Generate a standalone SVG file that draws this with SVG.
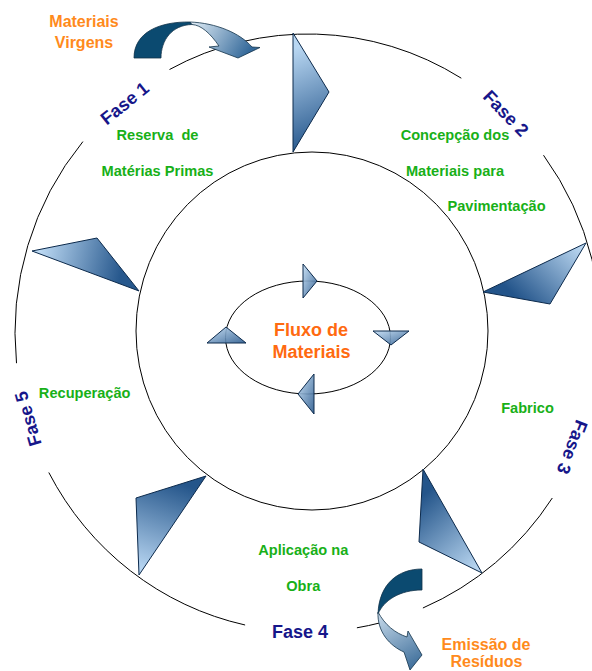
<svg xmlns="http://www.w3.org/2000/svg" width="592" height="671" viewBox="0 0 592 671">
<style>
.ln{fill:none;stroke:#000;stroke-width:1}
.tri{stroke:#0c2a4c;stroke-width:1;stroke-linejoin:round}
.st{fill:url(#gs);stroke:#0c2a4c;stroke-width:1;fill-opacity:0.9}
.or{font-family:"Liberation Sans",Arial,sans-serif;font-weight:bold;font-size:16px;fill:#ff8a1c;text-anchor:middle}
.orc{font-family:"Liberation Sans",Arial,sans-serif;font-weight:bold;font-size:18px;fill:#ff6a10;text-anchor:middle}
.gr{font-family:"Liberation Sans",Arial,sans-serif;font-weight:bold;font-size:14.6px;fill:#18b018;text-anchor:middle}
.fs{font-family:"Liberation Sans",Arial,sans-serif;font-weight:bold;font-size:18px;fill:#16168a;text-anchor:middle}
.arw{stroke:#12324a;stroke-width:0.8;stroke-linejoin:round}
</style>
<defs>
<linearGradient id="gs" x1="0" y1="0" x2="1" y2="1"><stop offset="0" stop-color="#c4def5"/><stop offset="1" stop-color="#2a5a8e"/></linearGradient>
<linearGradient id="g1" gradientUnits="userSpaceOnUse" x1="290" y1="50" x2="328" y2="140"><stop offset="0" stop-color="#b9d7f2"/><stop offset="1" stop-color="#27588d"/></linearGradient>
<linearGradient id="g2" gradientUnits="userSpaceOnUse" x1="584" y1="246" x2="525" y2="306"><stop offset="0" stop-color="#c0dcf5"/><stop offset="1" stop-color="#23548a"/></linearGradient>
<linearGradient id="g3" gradientUnits="userSpaceOnUse" x1="418" y1="500" x2="478" y2="570"><stop offset="0" stop-color="#24558a"/><stop offset="1" stop-color="#bcd9f3"/></linearGradient>
<linearGradient id="g4" gradientUnits="userSpaceOnUse" x1="172" y1="480" x2="140" y2="570"><stop offset="0" stop-color="#24558a"/><stop offset="1" stop-color="#b9d7f3"/></linearGradient>
<linearGradient id="g5" gradientUnits="userSpaceOnUse" x1="40" y1="250" x2="122" y2="268"><stop offset="0" stop-color="#bcd9f3"/><stop offset="1" stop-color="#27588d"/></linearGradient>
<linearGradient id="ga1" gradientUnits="userSpaceOnUse" x1="190" y1="24" x2="245" y2="58"><stop offset="0" stop-color="#e2eef7"/><stop offset="1" stop-color="#34699a"/></linearGradient>
<linearGradient id="ga2" gradientUnits="userSpaceOnUse" x1="380" y1="612" x2="415" y2="670"><stop offset="0" stop-color="#c8dbeb"/><stop offset="1" stop-color="#3a6b98"/></linearGradient>
</defs>

<g id="connectors">
<ellipse class="ln" cx="312" cy="331" rx="176" ry="179"/>
<path class="ln" d="M169.5,69.5 A293,299 0 0 1 461.3,78.2"/>
<path class="ln" d="M543.5,155.2 A293,299 0 0 1 598.2,374.6"/>
<path class="ln" d="M552.3,498 A293,299 0 0 1 422.9,608"/>
<path class="ln" d="M379.9,622.9 A293,299 0 0 1 356.9,627.8"/>
<path class="ln" d="M245.1,625 A293,299 0 0 1 48.8,472.5"/>
<path class="ln" d="M16.5,363.2 A293,299 0 0 1 82.9,141.6"/>
<ellipse class="ln" cx="308" cy="337.5" rx="82.5" ry="56.5"/>
</g>

<g id="big-arrows">
<polygon class="tri" fill="url(#g1)" points="293,33 329,92 293,152"/>
<polygon class="tri" fill="url(#g2)" points="586,243 483,292 550,304"/>
<polygon class="tri" fill="url(#g3)" points="423,469 419,542 482,573"/>
<polygon class="tri" fill="url(#g4)" points="206,476 136,498 139,575"/>
<polygon class="tri" fill="url(#g5)" points="32,251 97,238 139,291"/>
</g>

<g id="small-arrows">
<polygon class="st" points="303,264 317,281 303,298"/>
<polygon class="st" points="373,331 409,331 391,345"/>
<polygon class="st" points="314,374 298,394 314,414"/>
<polygon class="st" points="207,343 226,327 246,343"/>
</g>

<g id="arrow-virgens">
<path class="arw" fill="#0b4a70" d="M134,58 C134,32 160,21.5 190,22 L192,24.5 C172,25 161,40 161,58 Z"/>
<path class="arw" fill="url(#ga1)" d="M190,22 C216,23 240,33 252,47 L260,47.5 L238,58 L209,47 L219,46 C210,33 201,25 192,24.5 Z"/>
</g>

<g id="arrow-residuos">
<path class="arw" fill="#0b4a70" d="M422,569 C398,569 379,584 378,614 C384,600 400,590 422,590 Z"/>
<path class="arw" fill="url(#ga2)" d="M378,612 C377,632 390,646 404,652 L410,670 L422,655 L408,631 L407,637 C395,633 385,625 378,612 Z"/>
</g>

<g id="node-materiais-virgens">
<text class="or" x="84" y="27">Materiais</text>
<text class="or" x="84" y="48">Virgens</text>
</g>
<g id="node-fase1">
<text class="fs" transform="translate(128.6,108) rotate(-39)">Fase 1</text>
<text class="gr" x="157.5" y="140" xml:space="preserve">Reserva  de</text>
<text class="gr" x="157.5" y="176">Matérias Primas</text>
</g>
<g id="node-fase2">
<text class="fs" transform="translate(501.4,117.6) rotate(46)">Fase 2</text>
<text class="gr" x="455" y="140">Concepção dos</text>
<text class="gr" x="455" y="176">Materiais para</text>
<text class="gr" x="496.5" y="211">Pavimentação</text>
</g>
<g id="node-fase3">
<text class="fs" transform="translate(566.5,445) rotate(111)">Fase 3</text>
<text class="gr" x="527.5" y="413">Fabrico</text>
</g>
<g id="node-fase4">
<text class="fs" x="300" y="637.5">Fase 4</text>
<text class="gr" x="303.3" y="555">Aplicação na</text>
<text class="gr" x="303.3" y="591">Obra</text>
</g>
<g id="node-fase5">
<text class="fs" transform="translate(34,417) rotate(-106)">Fase 5</text>
<text class="gr" x="84.7" y="398">Recuperação</text>
</g>
<g id="node-fluxo">
<text class="orc" x="311" y="336">Fluxo de</text>
<text class="orc" x="311.5" y="358">Materiais</text>
</g>
<g id="node-residuos">
<text class="or" x="486" y="650">Emissão de</text>
<text class="or" x="486.5" y="667">Resíduos</text>
</g>
</svg>
